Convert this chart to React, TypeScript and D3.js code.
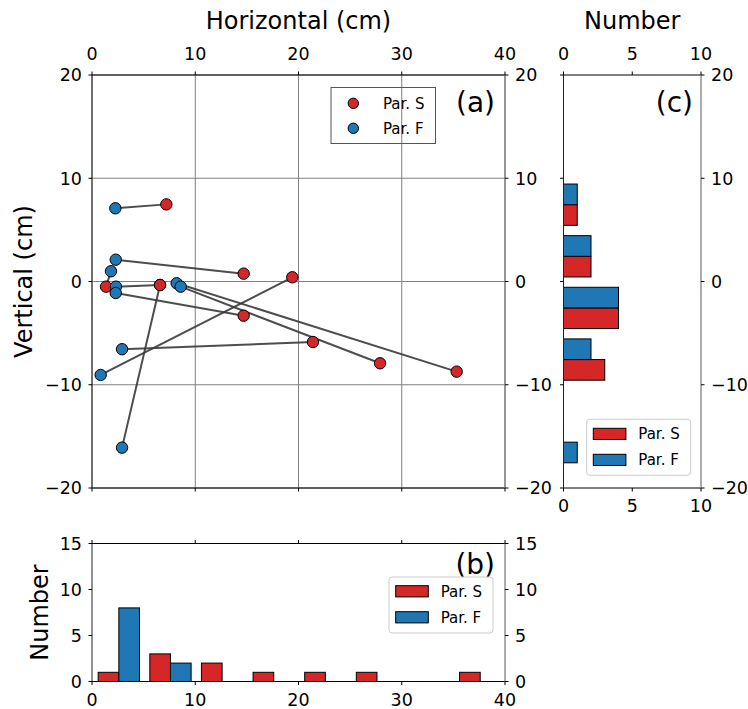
import React from "react";
import * as d3 from "d3";

// Particle positions (cm): Par. S (red) and Par. F (blue), paired index-wise
const parSX = [7.2, 14.69, 1.36, 6.59, 6.59, 14.69, 21.4, 19.4, 35.32, 27.9];
const parSY = [7.47, 0.76, -0.5, -0.34, -0.34, -3.31, -5.86, 0.41, -8.73, -7.92];
const parFX = [2.26, 2.3, 1.84, 2.32, 2.91, 2.3, 2.91, 0.84, 8.2, 8.59];
const parFY = [7.09, 2.11, 0.99, -0.5, -16.09, -1.11, -6.56, -9.05, -0.17, -0.5];

// Histogram (b): horizontal
const hBinEdges = [0.1, 5.1, 10.1, 15.1, 20.1, 25.1, 30.1, 35.1, 40.1];
const hCountS = [1, 3, 2, 1, 1, 1, 0, 1];
const hCountF = [8, 2, 0, 0, 0, 0, 0, 0];

// Histogram (c): vertical
const vBinEdges = [-20.06, -15.06, -10.06, -5.06, -0.06, 4.94, 9.94];
const vCountS = [0, 0, 3, 4, 2, 1];
const vCountF = [1, 0, 2, 4, 2, 1];

const posTicks = [0, 10, 20, 30, 40];
const vertTicks = [-20, -10, 0, 10, 20];
const numTicksB = [0, 5, 10, 15];
const numTicksC = [0, 5, 10];

const RED = "#d62728";
const BLUE = "#1f77b4";
const FONT = "DejaVu Sans, sans-serif";
const TICK_FS = 17.5;
const LABEL_FS = 24;
const LEG_FS = 15;
const PANEL_FS = 28;
const fmt = (v: number) => String(v).replace("-", "\u2212");

export default function App() {
  const W = 748, H = 709;
  // panel a
  const xA = d3.scaleLinear().domain([0, 40]).range([92, 505]);
  const yA = d3.scaleLinear().domain([-20, 20]).range([488, 75]);
  // panel b
  const yB = d3.scaleLinear().domain([0, 15]).range([681.5, 543.5]);
  // panel c
  const xC = d3.scaleLinear().domain([0, 10]).range([563.5, 701]);

  const tl = 3.5;
  const pad = 10;
  const dy = 6.3;
  const spineR = "#808080";

  const hbw = hBinEdges[1] - hBinEdges[0];
  const vbw = vBinEdges[1] - vBinEdges[0];

  const tickText = (props: any, t: string) => (
    <text {...props} fontFamily={FONT} fontSize={TICK_FS} fill="#000">{t}</text>
  );

  return (
    <svg width={W} height={H} style={{ display: "block", position: "absolute", left: 0, top: 0 }}>
      <rect x={0} y={0} width={W} height={H} fill="#fff" />

      {/* ===== Panel a ===== */}
      {posTicks.map((t) => (
        <line key={"gx" + t} x1={xA(t)} x2={xA(t)} y1={yA(-20)} y2={yA(20)} stroke="#808080" strokeWidth={1} />
      ))}
      {vertTicks.map((t) => (
        <line key={"gy" + t} x1={xA(0)} x2={xA(40)} y1={yA(t)} y2={yA(t)} stroke="#808080" strokeWidth={1} />
      ))}
      {parSX.map((_, i) => (
        <line key={"ln" + i} x1={xA(parFX[i])} y1={yA(parFY[i])} x2={xA(parSX[i])} y2={yA(parSY[i])}
          stroke="#3a3a3a" strokeWidth={2} strokeOpacity={0.9} />
      ))}
      {parSX.map((_, i) => (
        <circle key={"ps" + i} cx={xA(parSX[i])} cy={yA(parSY[i])} r={5.7} fill={RED} stroke="#000" strokeWidth={1} />
      ))}
      {parFX.map((_, i) => (
        <circle key={"pf" + i} cx={xA(parFX[i])} cy={yA(parFY[i])} r={5.7} fill={BLUE} stroke="#000" strokeWidth={1} />
      ))}
      {/* spines */}
      <line x1={xA(0)} x2={xA(40)} y1={yA(20)} y2={yA(20)} stroke="#000" />
      <line x1={xA(0)} x2={xA(40)} y1={yA(-20)} y2={yA(-20)} stroke="#000" />
      <line x1={xA(0)} x2={xA(0)} y1={yA(-20)} y2={yA(20)} stroke="#222" />
      <line x1={xA(40)} x2={xA(40)} y1={yA(-20)} y2={yA(20)} stroke={spineR} strokeWidth={1.3} />
      {posTicks.map((t) => (
        <g key={"at" + t}>
          <line x1={xA(t)} x2={xA(t)} y1={yA(20)} y2={yA(20) - tl} stroke="#000" />
          <line x1={xA(t)} x2={xA(t)} y1={yA(-20)} y2={yA(-20) + tl} stroke="#000" />
          {tickText({ x: xA(t), y: 59.5, textAnchor: "middle" }, fmt(t))}
        </g>
      ))}
      {vertTicks.map((t) => (
        <g key={"av" + t}>
          <line x1={xA(0)} x2={xA(0) - tl} y1={yA(t)} y2={yA(t)} stroke="#000" />
          <line x1={xA(40)} x2={xA(40) + tl} y1={yA(t)} y2={yA(t)} stroke="#000" />
          {tickText({ x: xA(0) - pad, y: yA(t) + dy, textAnchor: "end" }, fmt(t))}
          {tickText({ x: xA(40) + pad, y: yA(t) + dy, textAnchor: "start" }, fmt(t))}
        </g>
      ))}
      <text x={(xA(0) + xA(40)) / 2} y={29} textAnchor="middle" fontFamily={FONT} fontSize={LABEL_FS}>Horizontal (cm)</text>
      <text transform={`translate(32,${(yA(20) + yA(-20)) / 2}) rotate(-90)`} textAnchor="middle" fontFamily={FONT} fontSize={LABEL_FS}>Vertical (cm)</text>
      <text x={495} y={112} textAnchor="end" fontFamily={FONT} fontSize={PANEL_FS}>(a)</text>
      {/* legend a */}
      <rect x={331} y={87.5} width={104.5} height={56} fill="none" stroke="#555" strokeWidth={1} />
      <circle cx={353.3} cy={103.3} r={5.2} fill={RED} stroke="#000" />
      <circle cx={353.3} cy={128.3} r={5.2} fill={BLUE} stroke="#000" />
      <text x={383} y={108.5} fontFamily={FONT} fontSize={LEG_FS}>Par. S</text>
      <text x={383} y={133.5} fontFamily={FONT} fontSize={LEG_FS}>Par. F</text>

      {/* ===== Panel b ===== */}
      {hCountS.map((c, i) => (
        c > 0 ? <rect key={"bs" + i} x={xA(hBinEdges[i] + 0.1 * hbw)} width={xA(hBinEdges[i] + 0.5 * hbw) - xA(hBinEdges[i] + 0.1 * hbw)}
          y={yB(c)} height={yB(0) - yB(c)} fill={RED} stroke="#000" strokeWidth={1} /> : null
      ))}
      {hCountF.map((c, i) => (
        c > 0 ? <rect key={"bf" + i} x={xA(hBinEdges[i] + 0.5 * hbw)} width={xA(hBinEdges[i] + 0.9 * hbw) - xA(hBinEdges[i] + 0.5 * hbw)}
          y={yB(c)} height={yB(0) - yB(c)} fill={BLUE} stroke="#000" strokeWidth={1} /> : null
      ))}
      <line x1={xA(0)} x2={xA(40)} y1={yB(15)} y2={yB(15)} stroke="#000" />
      <line x1={xA(0)} x2={xA(40)} y1={yB(0)} y2={yB(0)} stroke="#000" />
      <line x1={xA(0)} x2={xA(0)} y1={yB(0)} y2={yB(15)} stroke="#222" />
      <line x1={xA(40)} x2={xA(40)} y1={yB(0)} y2={yB(15)} stroke={spineR} strokeWidth={1.3} />
      {posTicks.map((t) => (
        <g key={"bt" + t}>
          <line x1={xA(t)} x2={xA(t)} y1={yB(15)} y2={yB(15) - tl} stroke="#000" />
          <line x1={xA(t)} x2={xA(t)} y1={yB(0)} y2={yB(0) + tl} stroke="#000" />
          {tickText({ x: xA(t), y: 705.5, textAnchor: "middle" }, fmt(t))}
        </g>
      ))}
      {numTicksB.map((t) => (
        <g key={"bv" + t}>
          <line x1={xA(0)} x2={xA(0) - tl} y1={yB(t)} y2={yB(t)} stroke="#000" />
          <line x1={xA(40)} x2={xA(40) + tl} y1={yB(t)} y2={yB(t)} stroke="#000" />
          {tickText({ x: xA(0) - pad, y: yB(t) + dy, textAnchor: "end" }, fmt(t))}
          {tickText({ x: xA(40) + pad, y: yB(t) + dy, textAnchor: "start" }, fmt(t))}
        </g>
      ))}
      <text transform={`translate(48,${(yB(0) + yB(15)) / 2}) rotate(-90)`} textAnchor="middle" fontFamily={FONT} fontSize={LABEL_FS}>Number</text>
      <text x={495} y={574} textAnchor="end" fontFamily={FONT} fontSize={PANEL_FS}>(b)</text>
      <rect x={389} y={577} width={104} height={56} rx={3} fill="#fff" fillOpacity={0.8} stroke="#cccccc" />
      <rect x={395.7} y={585.7} width={32.6} height={11.2} fill={RED} stroke="#000" />
      <rect x={395.7} y={611.7} width={32.6} height={11.2} fill={BLUE} stroke="#000" />
      <text x={440.7} y={596.8} fontFamily={FONT} fontSize={LEG_FS}>Par. S</text>
      <text x={440.7} y={622.8} fontFamily={FONT} fontSize={LEG_FS}>Par. F</text>

      {/* ===== Panel c ===== */}
      {vCountS.map((c, i) => (
        c > 0 ? <rect key={"cs" + i} x={xC(0)} width={xC(c) - xC(0)}
          y={yA(vBinEdges[i] + 0.5 * vbw)} height={yA(vBinEdges[i] + 0.1 * vbw) - yA(vBinEdges[i] + 0.5 * vbw)}
          fill={RED} stroke="#000" strokeWidth={1} /> : null
      ))}
      {vCountF.map((c, i) => (
        c > 0 ? <rect key={"cf" + i} x={xC(0)} width={xC(c) - xC(0)}
          y={yA(vBinEdges[i] + 0.9 * vbw)} height={yA(vBinEdges[i] + 0.5 * vbw) - yA(vBinEdges[i] + 0.9 * vbw)}
          fill={BLUE} stroke="#000" strokeWidth={1} /> : null
      ))}
      <line x1={xC(0)} x2={xC(10)} y1={yA(20)} y2={yA(20)} stroke="#000" />
      <line x1={xC(0)} x2={xC(10)} y1={yA(-20)} y2={yA(-20)} stroke="#000" />
      <line x1={xC(0)} x2={xC(0)} y1={yA(-20)} y2={yA(20)} stroke="#222" />
      <line x1={xC(10)} x2={xC(10)} y1={yA(-20)} y2={yA(20)} stroke={spineR} strokeWidth={1.3} />
      {numTicksC.map((t) => (
        <g key={"ct" + t}>
          <line x1={xC(t)} x2={xC(t)} y1={yA(20)} y2={yA(20) - tl} stroke="#000" />
          <line x1={xC(t)} x2={xC(t)} y1={yA(-20)} y2={yA(-20) + tl} stroke="#000" />
          {tickText({ x: xC(t), y: 59.5, textAnchor: "middle" }, fmt(t))}
          {tickText({ x: xC(t), y: 512, textAnchor: "middle" }, fmt(t))}
        </g>
      ))}
      {vertTicks.map((t) => (
        <g key={"cv" + t}>
          <line x1={xC(0)} x2={xC(0) - tl} y1={yA(t)} y2={yA(t)} stroke="#000" />
          <line x1={xC(10)} x2={xC(10) + tl} y1={yA(t)} y2={yA(t)} stroke="#000" />
          {tickText({ x: xC(10) + pad, y: yA(t) + dy, textAnchor: "start" }, fmt(t))}
        </g>
      ))}
      <text x={(xC(0) + xC(10)) / 2} y={29} textAnchor="middle" fontFamily={FONT} fontSize={LABEL_FS}>Number</text>
      <text x={693} y={112} textAnchor="end" fontFamily={FONT} fontSize={PANEL_FS}>(c)</text>
      <rect x={586.7} y={419.3} width={104} height={56} rx={3} fill="#fff" fillOpacity={0.8} stroke="#cccccc" />
      <rect x={593.3} y={428.3} width={32.6} height={11.2} fill={RED} stroke="#000" />
      <rect x={593.3} y={454.3} width={32.6} height={11.2} fill={BLUE} stroke="#000" />
      <text x={638.3} y={439.4} fontFamily={FONT} fontSize={LEG_FS}>Par. S</text>
      <text x={638.3} y={465.4} fontFamily={FONT} fontSize={LEG_FS}>Par. F</text>
    </svg>
  );
}
